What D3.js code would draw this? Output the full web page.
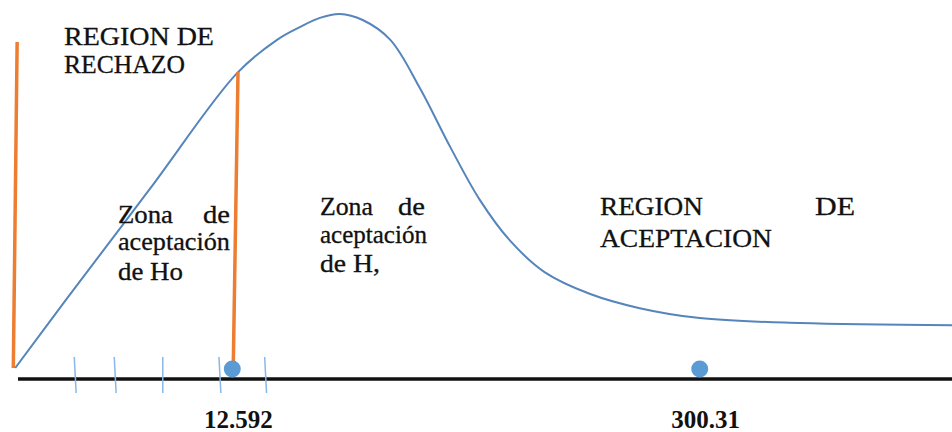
<!DOCTYPE html>
<html lang="es">
<head>
<meta charset="utf-8">
<title>Chi cuadrado</title>
<script src="https://cdnjs.cloudflare.com/ajax/libs/d3/7.8.5/d3.min.js"></script>
<style>
  body { margin: 0; background: #fff; }
  svg { display: block; }
</style>
</head>
<body>
<div id="chart"></div>
<script>
// curve (x: % of width, y: % of peak height)
var curveX = [1.6, 7.0, 15.8, 24.9, 29.1, 31.5, 33.6, 35.7, 38.1, 41.0, 44.1, 47.3, 50.4, 53.6, 57.2, 62.0, 67.2, 73.5, 84.0, 100];
var curveY = [0, 19.5, 50.8, 83.3, 92.7, 96.3, 98.9, 100, 98.3, 92.7, 79.1, 62.4, 47.5, 35.9, 27.1, 20.9, 16.9, 14.1, 12.7, 12.1];

// critical (orange) lines: top x, bottom x, top height
var critTopX = [1.8, 25.0];
var critBotX = [1.4, 24.5];
var critTopY = [92.1, 83.6];

// small blue ticks on the axis
var tickTopX = [7.8, 12.0, 17.1, 23.0, 27.8];
var tickBotX = [8.0, 12.2, 17.1, 23.2, 28.0];

// marked values
var markLabels = ["12.592", "300.31"];
var markX = [24.4, 73.5];

var W = 952, H = 432;
var serif = "'Liberation Serif'";
var x = d3.scaleLinear().domain([0, 100]).range([0, W]);
var y = d3.scaleLinear().domain([0, 100]).range([368, 14]);
var axisY = 379;

var svg = d3.select("#chart").append("svg")
    .attr("width", W)
    .attr("height", H);

// axis baseline
svg.append("line")
    .attr("x1", 18).attr("x2", W)
    .attr("y1", axisY).attr("y2", axisY)
    .attr("stroke", "#111")
    .attr("stroke-width", 3.6);

// ticks
svg.selectAll("line.tick")
    .data(tickTopX)
    .enter().append("line")
    .attr("class", "tick")
    .attr("x1", function(d){ return x(d); })
    .attr("x2", function(d, i){ return x(tickBotX[i]); })
    .attr("y1", 357).attr("y2", 393)
    .attr("stroke", "#8ab8e6")
    .attr("stroke-width", 1.5);

// density curve
var pts = curveX.map(function(d, i){ return [d, curveY[i]]; });
svg.append("path")
    .datum(pts)
    .attr("fill", "none")
    .attr("stroke", "#5585bb")
    .attr("stroke-width", 2)
    .attr("d", d3.line()
        .x(function(d){ return x(d[0]); })
        .y(function(d){ return y(d[1]); })
        .curve(d3.curveCatmullRom.alpha(0.5)));

// critical lines
svg.selectAll("line.crit")
    .data(critTopX)
    .enter().append("line")
    .attr("class", "crit")
    .attr("x1", function(d){ return x(d); })
    .attr("y1", function(d, i){ return y(critTopY[i]); })
    .attr("x2", function(d, i){ return x(critBotX[i]); })
    .attr("y2", y(0))
    .attr("stroke", "#ed7d31")
    .attr("stroke-width", 3.5);

// dots
svg.selectAll("circle.mark")
    .data(markX)
    .enter().append("circle")
    .attr("class", "mark")
    .attr("cx", function(d){ return x(d); })
    .attr("cy", 369)
    .attr("r", 8.5)
    .attr("fill", "#5b9bd5");

// value labels
svg.selectAll("text.val")
    .data(markLabels)
    .enter().append("text")
    .attr("class", "val")
    .attr("x", function(d, i){ return x(markX[i]) + 6; })
    .attr("y", 428)
    .attr("text-anchor", "middle")
    .style("font-family", serif)
    .attr("font-size", 25)
    .attr("font-weight", "bold")
    .attr("fill", "#111")
    .text(function(d){ return d; });

// annotation text, stretched sideways to the widths seen in the picture
function word(t, px, py, w, size) {
  var el = svg.append("text")
     .style("font-family", serif)
     .attr("font-size", size)
     .attr("fill", "#111")
     .attr("stroke", "#111")
     .attr("stroke-width", 0.3)
     .text(t);
  var nat = el.node().getComputedTextLength() || w;
  el.attr("transform", "translate(" + px + "," + py + ") scale(" + (w / nat) + ",1)");
}
word("REGION DE", 64, 45, 150, 26);
word("RECHAZO", 64, 73, 121, 26);

word("Zona", 118, 223, 55, 25);
word("de", 203, 223, 27, 25);
word("aceptación", 118, 250, 112, 25);
word("de Ho", 118, 280, 65, 25);

word("Zona", 320, 215, 53, 25);
word("de", 398, 215, 27, 25);
word("aceptación", 320, 243, 107, 25);
word("de H,", 320, 272, 60, 25);

word("REGION", 600, 215, 103, 26);
word("DE", 815, 215, 40, 26);
word("ACEPTACION", 600, 247, 172, 26);
</script>
</body>
</html>
